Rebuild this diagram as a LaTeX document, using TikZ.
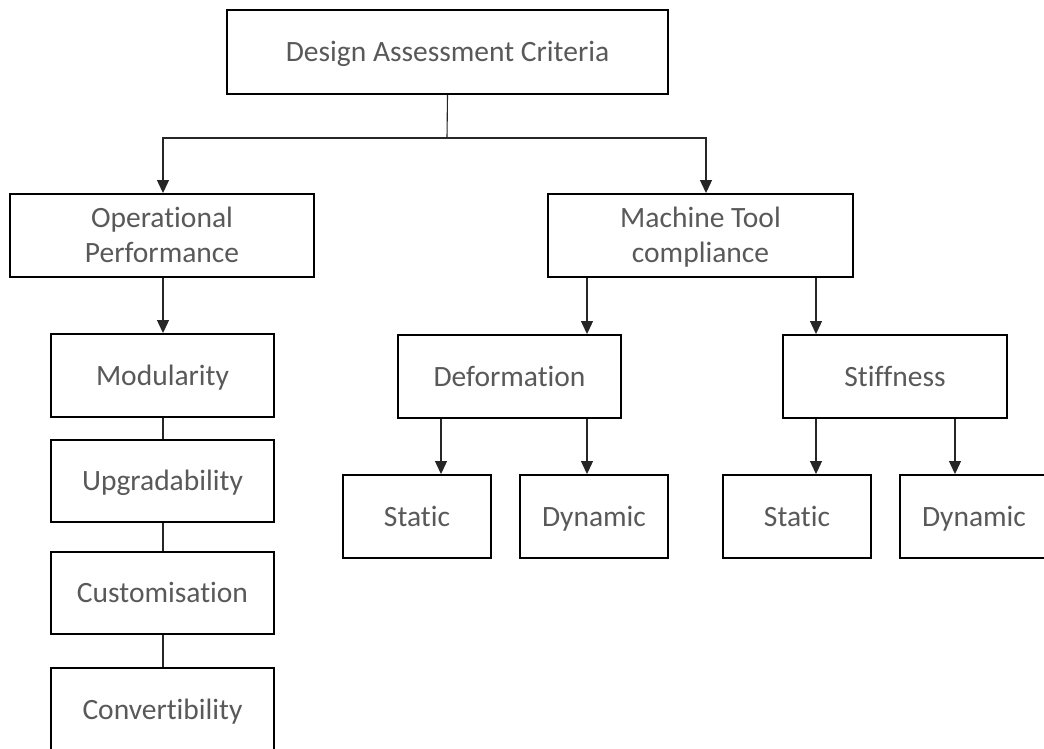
\documentclass[tikz,border=0pt]{standalone}
\usepackage{fontspec}
\setmainfont{Carlito}[Ligatures=NoCommon]
\usetikzlibrary{arrows.meta}
\definecolor{txtgray}{HTML}{595959}
\tikzset{
  box/.style={draw=black, line width=1.9pt, rectangle, inner sep=0pt,
    text=txtgray, font=\fontsize{29.5}{35}\selectfont,
    text height=19pt, text depth=0pt},
  twoline/.style={box, align=center, text height=54pt, text depth=0pt},
  link/.style={draw=black!85, line width=1.1pt},
  arr/.style={link, -{Triangle[width=12pt,length=13pt]}},
}
\begin{document}
\begin{tikzpicture}[x=1pt,y=-1pt]
\useasboundingbox (0,0) rectangle (1044,749);
\clip (0,0) rectangle (1044,749);
\fill[white] (0,0) rectangle (1044,749);

% boxes
\node[box, minimum width=441pt, minimum height=84pt] (top) at (447.5,52) {Design Assessment Criteria};
\node[twoline, minimum width=304pt, minimum height=83pt] (op) at (162,235.5) {Operational\\Performance};
\node[twoline, minimum width=305pt, minimum height=83pt] (mt) at (700.5,235.5) {Machine Tool\\compliance};

\node[box, minimum width=223pt, minimum height=83pt] (mod) at (162.5,375.5) {Modularity};
\node[box, minimum width=223pt, minimum height=82pt] (upg) at (162.5,481) {Upgradability};
\node[box, minimum width=223pt, minimum height=82pt] (cus) at (162.5,593) {Customisation};
\node[box, minimum width=223pt, minimum height=83pt] (con) at (162.5,709.5) {Convertibility};

\node[box, minimum width=223pt, minimum height=83pt] (def) at (509.5,376.5) {Deformation};
\node[box, minimum width=224pt, minimum height=83pt] (stf) at (895,376.5) {Stiffness};

\node[box, minimum width=148pt, minimum height=83pt] (s1) at (417,516.5) {Static};
\node[box, minimum width=148pt, minimum height=83pt] (d1) at (594,516.5) {Dynamic};
\node[box, minimum width=148pt, minimum height=83pt] (s2) at (797,516.5) {Static};
\node[box, minimum width=148pt, minimum height=83pt] (d2) at (974,516.5) {Dynamic};

% connector columns
\coordinate (bus) at (447,138);
\coordinate (cop) at (163,0);
\coordinate (cmt) at (706,0);
\coordinate (cdef) at (587,0);
\coordinate (cstf) at (816,0);
\coordinate (cs1) at (441,0);
\coordinate (cd1) at (587,0);
\coordinate (cs2) at (816,0);
\coordinate (cd2) at (955,0);

% top level split
\draw[link] (top.south) -- (bus);
\draw[arr] (bus) -| (op.north -| cop);
\draw[arr] (bus) -| (mt.north -| cmt);

% operational performance chain
\draw[arr] (op.south -| cop) -- (mod.north -| cop);
\draw[link] (mod.south -| cop) -- (upg.north -| cop);
\draw[link] (upg.south -| cop) -- (cus.north -| cop);
\draw[link] (cus.south -| cop) -- (con.north -| cop);

% machine tool compliance branches
\draw[arr] (mt.south -| cdef) -- (def.north -| cdef);
\draw[arr] (mt.south -| cstf) -- (stf.north -| cstf);
\draw[arr] (def.south -| cs1) -- (s1.north -| cs1);
\draw[arr] (def.south -| cd1) -- (d1.north -| cd1);
\draw[arr] (stf.south -| cs2) -- (s2.north -| cs2);
\draw[arr] (stf.south -| cd2) -- (d2.north -| cd2);
\end{tikzpicture}
\end{document}
